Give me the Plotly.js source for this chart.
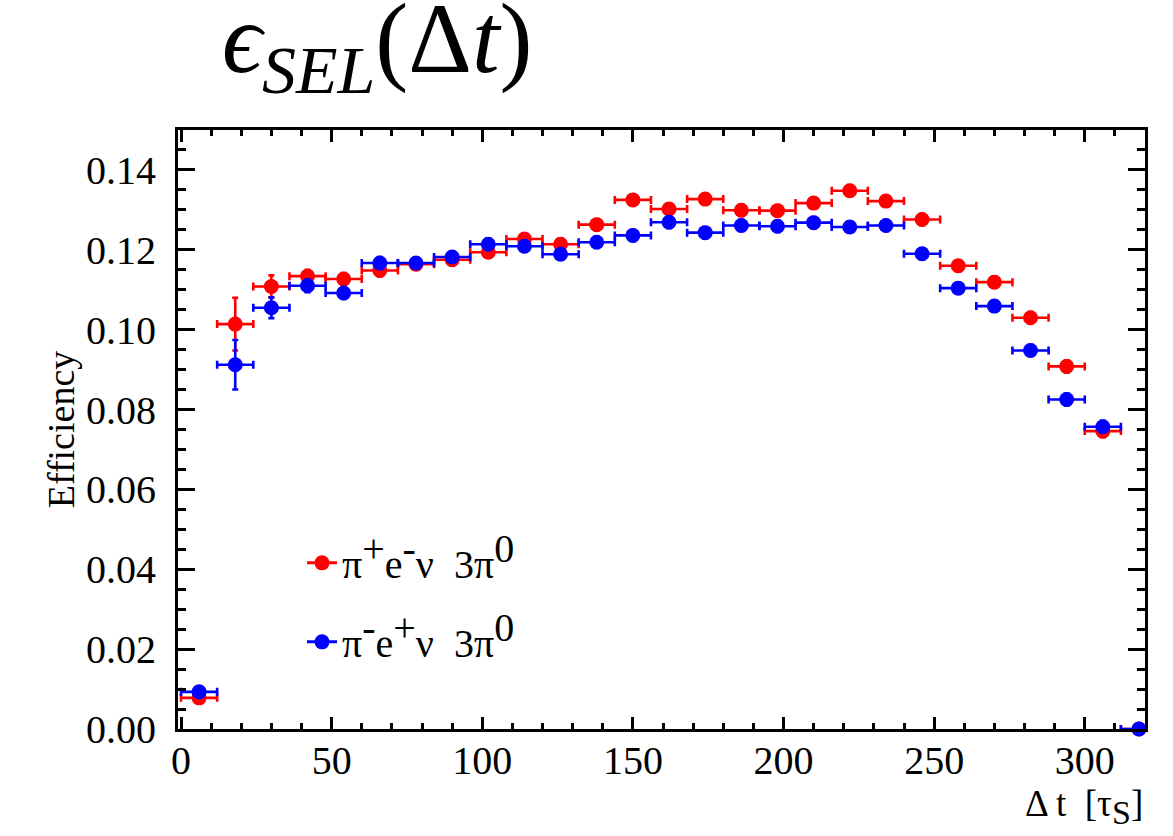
<!DOCTYPE html>
<html>
<head>
<meta charset="utf-8">
<script src="https://cdn.plot.ly/plotly-3.0.1.min.js"></script>
<style>
  html, body { margin: 0; padding: 0; background: #ffffff; }
  #chart { width: 1173px; height: 836px; }
</style>
</head>
<body>
<div id="chart"></div>
<script>
// Bin centres of Δt [τ_S] (bins 12 wide)
const binCenters = [6, 18, 30, 42, 54, 66, 78, 90, 102, 114, 126, 138, 150, 162, 174, 186, 198, 210, 222, 234, 246, 258, 270, 282, 294, 306, 318];
const binHalfWidth = [6, 6, 6, 6, 6, 6, 6, 6, 6, 6, 6, 6, 6, 6, 6, 6, 6, 6, 6, 6, 6, 6, 6, 6, 6, 6, 6];

// π+ e- ν 3π0 (red)
const effPlus = [0.0078, 0.1014, 0.1108, 0.1134, 0.1127, 0.1148, 0.1164, 0.1175, 0.1194, 0.1227, 0.1214, 0.1263, 0.1325, 0.1302, 0.1327, 0.1299, 0.1298, 0.1317, 0.1348, 0.1322, 0.1276, 0.1160, 0.1119, 0.1030, 0.0908, 0.0746, 0.0];
const errPlus = [0.0012, 0.0066, 0.0028, 0.0016, 0.0015, 0.0015, 0.0014, 0.0014, 0.0014, 0.0014, 0.0014, 0.0014, 0.0014, 0.0014, 0.0014, 0.0014, 0.0014, 0.0014, 0.0014, 0.0014, 0.0014, 0.0014, 0.0014, 0.0014, 0.0015, 0.0015, 0.0];

// π- e+ ν 3π0 (blue)
const effMinus = [0.0093, 0.0912, 0.1055, 0.1110, 0.1092, 0.1167, 0.1167, 0.1182, 0.1214, 0.1209, 0.1189, 0.1219, 0.1236, 0.1269, 0.1243, 0.1261, 0.1259, 0.1268, 0.1257, 0.1261, 0.1190, 0.1104, 0.1059, 0.0948, 0.0825, 0.0757, 0.0];
const errMinus = [0.0012, 0.0062, 0.0026, 0.0016, 0.0015, 0.0015, 0.0014, 0.0014, 0.0014, 0.0014, 0.0014, 0.0014, 0.0014, 0.0014, 0.0014, 0.0014, 0.0014, 0.0014, 0.0014, 0.0014, 0.0014, 0.0014, 0.0014, 0.0014, 0.0015, 0.0015, 0.0];

const S = (t) => '<sup><span style="font-size:40px">' + t + '</span></sup>';
const labelPlus = 'π' + S('+') + 'e' + S('-') + 'ν\u00A0 3π' + S('0');
const labelMinus = 'π' + S('-') + 'e' + S('+') + 'ν\u00A0 3π' + S('0');

const RED = '#ff0000';
const BLUE = '#0000ff';
const FONT = '"Liberation Serif", "Times New Roman", serif';

function dataTrace(y, err, color) {
  return {
    type: 'scatter',
    mode: 'markers',
    x: binCenters,
    y: y,
    showlegend: false,
    cliponaxis: false,
    marker: { color: color, size: 15, line: { width: 0 } },
    error_x: { type: 'data', array: binHalfWidth, symmetric: true, color: color, thickness: 2.6, width: 4 },
    error_y: { type: 'data', array: err, symmetric: true, color: color, thickness: 2.6, width: 3 },
    hoverinfo: 'x+y'
  };
}

function legendTrace(name, color, group) {
  return {
    type: 'scatter',
    mode: 'lines+markers',
    x: [null],
    y: [null],
    name: name,
    legendgroup: group,
    line: { color: color, width: 3 },
    marker: { color: color, size: 15 }
  };
}

const traces = [
  dataTrace(effPlus, errPlus, RED),
  dataTrace(effMinus, errMinus, BLUE),
  legendTrace(labelPlus, RED, 'a'),
  legendTrace(labelMinus, BLUE, 'b')
];

const layout = {
  width: 1173,
  height: 836,
  paper_bgcolor: '#ffffff',
  plot_bgcolor: '#ffffff',
  margin: { l: 178, r: 28, t: 130, b: 107, pad: 0 },
  font: { family: FONT, color: '#000000', size: 40 },
  title: {
    text: '<i>ϵ</i><sub><span style="font-size:68px"><i>SEL</i></span></sub>(Δ<i>t</i>)',
    font: { family: FONT, size: 99, color: '#000000' },
    xref: 'container', x: 222 / 1173, xanchor: 'left',
    yref: 'container', y: 1 - 3 / 836, yanchor: 'top'
  },
  xaxis: {
    range: [-1, 320],
    showgrid: false, zeroline: false,
    showline: true, linecolor: '#000000', linewidth: 3, mirror: 'allticks',
    ticks: 'inside', ticklen: 12, tickwidth: 2.5, tickcolor: '#000000',
    dtick: 50, tick0: 0,
    minor: { dtick: 10, ticks: 'inside', ticklen: 6, tickwidth: 2.5, tickcolor: '#000000', showgrid: false },
    tickfont: { family: FONT, size: 40, color: '#000000' },
    ticklabelstandoff: -6
  },
  yaxis: {
    range: [0, 0.15],
    showgrid: false, zeroline: false,
    showline: true, linecolor: '#000000', linewidth: 3, mirror: 'allticks',
    ticks: 'inside', ticklen: 17, tickwidth: 2.5, tickcolor: '#000000',
    dtick: 0.02, tick0: 0, tickformat: '.2f',
    minor: { dtick: 0.005, ticks: 'inside', ticklen: 8, tickwidth: 2.5, tickcolor: '#000000', showgrid: false },
    tickfont: { family: FONT, size: 40, color: '#000000' },
    ticklabelstandoff: 11,
    title: { text: 'Efficiency', font: { family: FONT, size: 38, color: '#000000' }, standoff: 0 }
  },
  legend: {
    x: (302 - 178) / 967, y: (728.5 - 530) / 598.5,
    xanchor: 'left', yanchor: 'top',
    bgcolor: 'rgba(0,0,0,0)', borderwidth: 0,
    font: { family: FONT, size: 40, color: '#000000' },
    traceorder: 'grouped', tracegroupgap: 24
  },
  annotations: [{
    text: 'Δ t  [τ<sub><span style="font-size:34px">S</span></sub>]',
    xref: 'paper', yref: 'paper',
    x: 1, xanchor: 'right',
    y: -(832 - 728.5) / 598.5, yanchor: 'bottom',
    showarrow: false,
    font: { family: FONT, size: 37, color: '#000000' }
  }],
  showlegend: true
};

Plotly.newPlot('chart', traces, layout, { displayModeBar: false });
</script>
</body>
</html>
